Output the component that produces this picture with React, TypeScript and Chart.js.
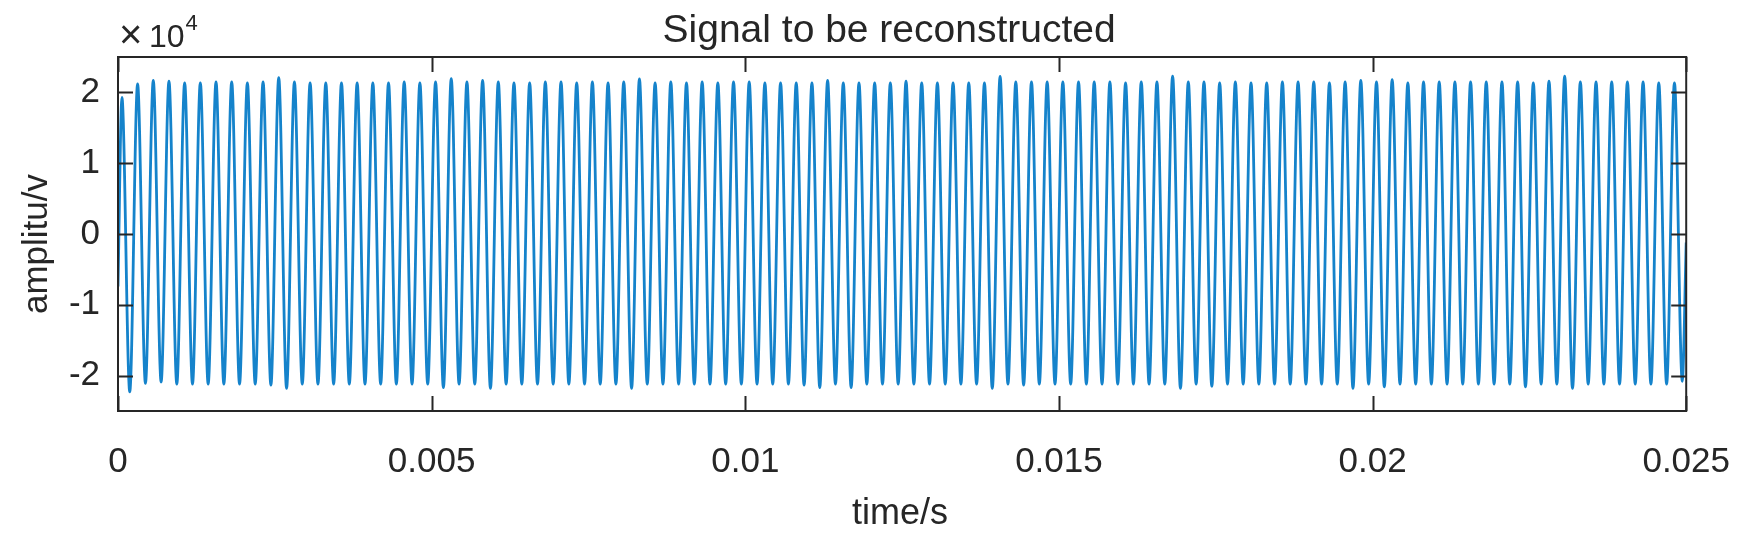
import React, { useEffect, useRef } from 'react';
import { Chart, registerables } from 'chart.js';

Chart.register(...registerables);

const titleText = 'Signal to be reconstructed';
const xAxisLabel = 'time/s';
const yAxisLabel = 'amplitu/v';
const yExponentTimes = '\u00d7';
const yExponentBase = '10';
const yExponentPower = '4';

const xTickValues = [0, 0.005, 0.01, 0.015, 0.02, 0.025];
const xTickLabels = ['0', '0.005', '0.01', '0.015', '0.02', '0.025'];
const yTickValues = [-20000, -10000, 0, 10000, 20000];
const yTickLabels = ['-2', '-1', '0', '1', '2'];

const xMin = 0;
const xMax = 0.025;
const yMin = -25000;
const yMax = 25000;

// signal: start value, one peak and one trough per cycle, end value
const startTime = 0;
const startValue = -7400;
const endTime = 0.025;
const endValue = -1200;
const firstPeakTime = 0.0000625;
const halfPeriod = 0.000125;

const peakValues = [
  19300, 21200, 21700, 21600, 21350, 21350, 21500, 21500, 21350, 21500,
  22100, 21500, 21350, 21350, 21350, 21350, 21350, 21350, 21500, 21350,
  21500, 21950, 21500, 21700, 21500, 21350, 21350, 21500, 21500, 21350,
  21500, 21350, 21500, 21900, 21350, 21500, 21350, 21500, 21350, 21500,
  21500, 21350, 21350, 21350, 21350, 21700, 21350, 21350, 21350, 21350,
  21600, 21350, 21350, 21350, 21350, 21350, 22250, 21500, 21500, 21500,
  21500, 21500, 21500, 21500, 21350, 21500, 21500, 22300, 21500, 21500,
  21350, 21500, 21350, 21350, 21500, 21500, 21500, 21350, 21500, 21700,
  21500, 21800, 21350, 21500, 21500, 21500, 21500, 21500, 21500, 21500,
  21350, 21600, 22300, 21500, 21500, 21500, 21500, 21500, 21350, 21350,
];

const troughValues = [
  -22300, -21100, -20900, -21200, -21200, -21200, -21200, -21200, -21200, -21350,
  -21800, -21200, -21200, -21200, -21200, -21200, -21200, -21200, -21200, -21200,
  -21700, -21200, -21200, -21800, -21200, -21200, -21200, -21200, -21200, -21200,
  -21200, -21200, -21800, -21200, -21200, -21200, -21200, -21200, -21200, -21200,
  -21200, -21200, -21200, -21350, -21700, -21200, -21700, -21200, -21200, -21200,
  -21200, -21200, -21200, -21200, -21200, -21800, -21200, -21350, -21200, -21200,
  -21200, -21200, -21200, -21200, -21200, -21200, -21200, -21800, -21200, -21500,
  -21200, -21200, -21200, -21200, -21200, -21200, -21200, -21200, -21800, -21200,
  -21600, -21200, -21200, -21200, -21200, -21200, -21200, -21200, -21200, -21600,
  -21200, -21200, -21800, -21200, -21200, -21200, -21200, -21200, -21200, -20800,
];

function buildPoints() {
  const pts: { x: number; y: number }[] = [{ x: startTime, y: startValue }];
  for (let k = 0; k < peakValues.length; k++) {
    pts.push({ x: firstPeakTime + 2 * k * halfPeriod, y: peakValues[k] });
    pts.push({ x: firstPeakTime + (2 * k + 1) * halfPeriod, y: troughValues[k] });
  }
  pts.push({ x: endTime, y: endValue });
  return pts;
}

const FONT = '"Liberation Sans", Arial, Helvetica, sans-serif';
const AXIS_COLOR = '#262626';

const matlabAxesPlugin = {
  id: 'matlabAxes',
  afterDatasetsDraw(chart: any) {
    const { ctx, chartArea: a, scales } = chart;
    const xs = scales.x;
    const ys = scales.y;
    const tickLen = 15;
    ctx.save();
    ctx.strokeStyle = AXIS_COLOR;
    ctx.lineWidth = 2;
    ctx.beginPath();
    for (const t of xs.ticks) {
      const px = Math.round(xs.getPixelForValue(t.value)) + 0.5;
      ctx.moveTo(px, a.bottom);
      ctx.lineTo(px, a.bottom - tickLen);
      ctx.moveTo(px, a.top);
      ctx.lineTo(px, a.top + tickLen);
    }
    for (const t of ys.ticks) {
      const py = Math.round(ys.getPixelForValue(t.value)) + 0.5;
      ctx.moveTo(a.left, py);
      ctx.lineTo(a.left + tickLen, py);
      ctx.moveTo(a.right, py);
      ctx.lineTo(a.right - tickLen, py);
    }
    ctx.stroke();
    ctx.strokeRect(a.left, a.top, a.right - a.left, a.bottom - a.top);

    ctx.fillStyle = AXIS_COLOR;
    // title
    ctx.font = `39px ${FONT}`;
    ctx.textAlign = 'center';
    ctx.textBaseline = 'alphabetic';
    ctx.fillText(titleText, (a.left + a.right) / 2 - 13, a.top - 15);
    // x label
    ctx.font = `36px ${FONT}`;
    ctx.fillText(xAxisLabel, (a.left + a.right) / 2 - 2, a.bottom + 113);
    // y label
    ctx.save();
    ctx.translate(a.left - 71, a.top + 187);
    ctx.rotate(-Math.PI / 2);
    ctx.font = `35px ${FONT}`;
    ctx.fillText(yAxisLabel, 0, 0);
    ctx.restore();
    // exponent
    ctx.textAlign = 'left';
    ctx.font = `40px ${FONT}`;
    ctx.fillText(yExponentTimes, a.left + 1, a.top - 9);
    ctx.font = `32px ${FONT}`;
    ctx.fillText(yExponentBase, a.left + 31, a.top - 10);
    const w = ctx.measureText(yExponentBase).width;
    ctx.font = `22px ${FONT}`;
    ctx.fillText(yExponentPower, a.left + 31 + w + 1, a.top - 27);
    ctx.restore();
  },
};

export default function App() {
  const canvasRef = useRef<HTMLCanvasElement | null>(null);

  useEffect(() => {
    document.body.style.margin = '0';
    const canvas = canvasRef.current;
    if (!canvas) return;
    Chart.defaults.font.family = FONT;
    const chart = new Chart(canvas, {
      type: 'line',
      data: {
        datasets: [
          {
            data: buildPoints(),
            borderColor: '#1583cb',
            borderWidth: 2.8,
            pointRadius: 0,
            fill: false,
            cubicInterpolationMode: 'monotone',
          },
        ],
      },
      options: {
        responsive: false,
        animation: false,
        events: [],
        layout: { padding: { left: 0, right: 69, top: 57, bottom: 0 } },
        plugins: {
          legend: { display: false },
          tooltip: { enabled: false },
          title: { display: false },
        },
        scales: {
          x: {
            type: 'linear',
            min: xMin,
            max: xMax,
            afterBuildTicks: (s: any) => {
              s.ticks = xTickValues.map((v) => ({ value: v }));
            },
            afterFit: (s: any) => {
              s.height = 128;
            },
            grid: { display: false, drawTicks: false },
            border: { display: false },
            ticks: {
              autoSkip: false,
              maxRotation: 0,
              minRotation: 0,
              padding: 30,
              color: AXIS_COLOR,
              font: { size: 35, family: FONT },
              callback: (_v: any, i: number) => xTickLabels[i],
            },
          },
          y: {
            type: 'linear',
            min: yMin,
            max: yMax,
            afterBuildTicks: (s: any) => {
              s.ticks = yTickValues.map((v) => ({ value: v }));
            },
            afterFit: (s: any) => {
              s.width = 118;
            },
            grid: { display: false, drawTicks: false },
            border: { display: false },
            ticks: {
              autoSkip: false,
              padding: 18,
              color: AXIS_COLOR,
              font: { size: 35, family: FONT },
              callback: (_v: any, i: number) => yTickLabels[i],
            },
          },
        },
      },
      plugins: [matlabAxesPlugin],
    } as any);
    return () => chart.destroy();
  }, []);

  return (
    <div style={{ width: 1760, height: 539, background: '#ffffff' }}>
      <canvas ref={canvasRef} width={1760} height={539} style={{ display: 'block' }} />
    </div>
  );
}
